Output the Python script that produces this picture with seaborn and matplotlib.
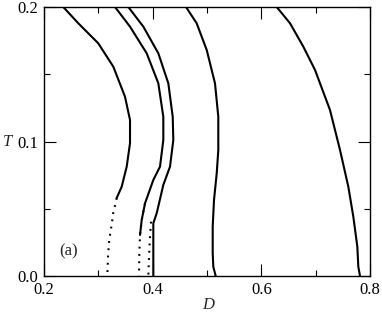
import matplotlib
matplotlib.use("Agg")
import matplotlib.pyplot as plt
import seaborn as sns
import pandas as pd
from matplotlib.ticker import MultipleLocator

# ---- data (D, T) ----
c1_D = [0.2355, 0.2631, 0.2999, 0.3276, 0.3491, 0.3583, 0.3583, 0.3522, 0.3430, 0.3338]
c1_T = [0.2, 0.1879, 0.1730, 0.1556, 0.1333, 0.1160, 0.0987, 0.0813, 0.0664, 0.0580]
c1d_D = [0.3338, 0.332, 0.328, 0.3245, 0.320, 0.318, 0.3165]
c1d_T = [0.058, 0.054, 0.0486, 0.038, 0.0268, 0.0156, 0.0]

c2_D = [0.3307, 0.3583, 0.3890, 0.4104, 0.4196, 0.4196, 0.4135, 0.4012, 0.3859, 0.3798, 0.3767]
c2_T = [0.2, 0.1854, 0.1656, 0.1433, 0.1184, 0.1011, 0.0813, 0.0714, 0.0540, 0.0416, 0.0305]
c2d_D = [0.3859, 0.3798, 0.3767, 0.3754, 0.3749]
c2d_T = [0.0540, 0.0416, 0.0305, 0.0156, 0.0]

c3_D = [0.3552, 0.3828, 0.4104, 0.4288, 0.4369, 0.4380, 0.4319, 0.4196, 0.4074, 0.4012, 0.4012, 0.4012]
c3_T = [0.2, 0.1854, 0.1656, 0.1433, 0.1184, 0.1011, 0.0813, 0.0677, 0.0466, 0.0392, 0.0193, 0.0]
c3d_D = [0.3970, 0.3951, 0.3933, 0.3920]
c3d_T = [0.0404, 0.0292, 0.0143, 0.0]

c4_D = [0.4614, 0.4810, 0.4995, 0.5147, 0.5208, 0.5208, 0.5179, 0.5129, 0.5105, 0.5105, 0.5116, 0.5160]
c4_T = [0.2, 0.1879, 0.1680, 0.1433, 0.1184, 0.0937, 0.0764, 0.0565, 0.0367, 0.0169, 0.0069, 0.0]

c5_D = [0.6283, 0.6528, 0.6773, 0.6988, 0.7264, 0.7448, 0.7601, 0.7693, 0.7767, 0.7785, 0.7816]
c5_T = [0.2, 0.1879, 0.1705, 0.1532, 0.1234, 0.0937, 0.0664, 0.0441, 0.0218, 0.0069, 0.0]

x_ticks = [0.2, 0.4, 0.6, 0.8]
x_ticklabels = ["0.2", "0.4", "0.6", "0.8"]
y_ticks = [0.0, 0.1, 0.2]
y_ticklabels = ["0.0", "0.1", "0.2"]

sns.set_style("ticks")
plt.rcParams['font.family'] = ['Liberation Serif', 'DejaVu Serif']

fig = plt.figure(figsize=(3.82, 3.13), dpi=100)
ax = fig.add_axes([44/382, 1-276/313, 326/382, 269/313])

solid = [(c1_D, c1_T), (c2_D, c2_T), (c3_D, c3_T), (c4_D, c4_T), (c5_D, c5_T)]
dotted = [(c1d_D, c1d_T), (c2d_D, c2d_T), (c3d_D, c3d_T)]

for D, T in solid:
    df = pd.DataFrame({"D": D, "T": T})
    sns.lineplot(data=df, x="D", y="T", sort=False, estimator=None, color="black",
                 lw=1.5, ax=ax)
for D, T in dotted:
    df = pd.DataFrame({"D": D, "T": T})
    sns.lineplot(data=df, x="D", y="T", sort=False, estimator=None, color="black",
                 lw=1.5, linestyle=(0, (0.9, 2.6)), ax=ax)

ax.set_xlim(0.2, 0.8)
ax.set_ylim(0.0, 0.2)
ax.set_xticks(x_ticks)
ax.set_xticklabels(x_ticklabels)
ax.set_yticks(y_ticks)
ax.set_yticklabels(y_ticklabels)
ax.xaxis.set_minor_locator(MultipleLocator(0.1))
ax.yaxis.set_minor_locator(MultipleLocator(0.05))
ax.tick_params(which='both', direction='in', top=True, right=True, width=0.8,
               labelsize=12, color='black', labelcolor='black')
ax.tick_params(which='major', length=8.5, pad=4)
ax.tick_params(which='minor', length=4.3)
for s in ax.spines.values():
    s.set_linewidth(1.0)
    s.set_color('black')

ax.set_xlabel("D", fontsize=12, style='italic', va='center')
ax.xaxis.set_label_coords((208-44)/326, (276-305)/269)
ax.set_ylabel("T", fontsize=12, style='italic', rotation=0, ha='center', va='center')
ax.yaxis.set_label_coords((8-44)/326, 0.5)

ax.text(0.246, 0.0186, "(a)", fontsize=12, ha='center', va='center')

fig.savefig("out.png", dpi=100)
